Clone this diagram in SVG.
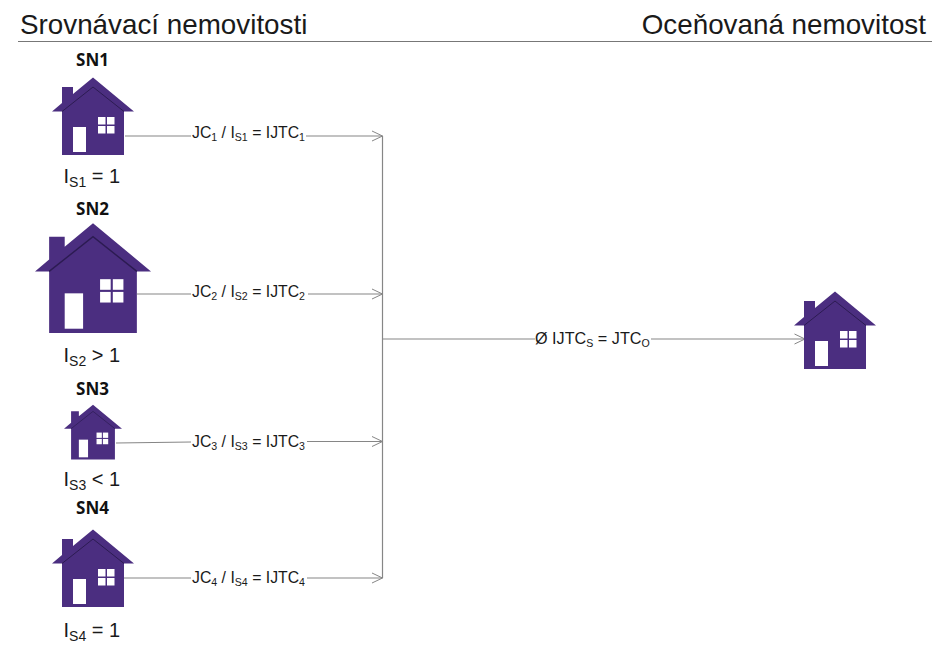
<svg xmlns="http://www.w3.org/2000/svg" width="935" height="648" viewBox="0 0 935 648">
<style>
text{font-family:"Liberation Sans",Arial,sans-serif;fill:#1a1a1a}
.title{font-size:27.8px}
.sn{font-family:"Open Sans","Noto Sans",sans-serif;font-weight:700;font-size:17px;text-anchor:middle;fill:#111}
.idx{font-size:20px}
.idx .s{font-size:14px}
.lab{font-size:15.8px}
.lab .s{font-size:10.6px}
.big{font-size:16.2px}
.wire{fill:none;stroke:#868686;stroke-width:1.2}
.body{fill:#4b2e80}
.edge{fill:none;stroke:#2c1b52;stroke-width:1}
.pane{fill:#fff}
</style>
<defs>
<marker id="open" markerUnits="userSpaceOnUse" markerWidth="14" markerHeight="14" refX="12" refY="7" orient="auto">
<path d="M1.500 2 L12 7 L1.500 12" fill="none" stroke="#868686" stroke-width="1"/>
</marker>
<g id="house">
<path class="body" d="M0 -0.500 L41 33.500 L31 33.500 V77 H-31 V33.500 L-41 33.500 L-31 25 V9 H-20 V16 Z"/>
<path class="edge" d="M-31 33.500 L0 9 L31 33.500"/>
<rect class="pane" x="-20" y="49" width="13" height="25"/>
<rect class="pane" x="5" y="39" width="7.500" height="7.500"/>
<rect class="pane" x="14" y="39" width="7.500" height="7.500"/>
<rect class="pane" x="5" y="48" width="7.500" height="7.500"/>
<rect class="pane" x="14" y="48" width="7.500" height="7.500"/>
</g>
</defs>
<g id="header">
<text class="title" x="20" y="33.500">Srovnávací nemovitosti</text>
<text class="title" x="926" y="33.500" text-anchor="end">Oceňovaná nemovitost</text>
<path d="M18 41.500 H932" fill="none" stroke="#777" stroke-width="1.200"/>
</g>
<g id="connectors">
<path class="wire" d="M125 136 H191 M306 136 H382.500" marker-end="url(#open)"/>
<path class="wire" d="M137 294 H191 M308 294 H382.500" marker-end="url(#open)"/>
<path class="wire" d="M116 443 L191 442 M307 441.500 H382.500" marker-end="url(#open)"/>
<path class="wire" d="M124 578 H191 M307 578 H382.500" marker-end="url(#open)"/>
<path class="wire" d="M382.500 136 V578"/>
<path class="wire" d="M382.500 339 H535 M651 339 H805" marker-end="url(#open)"/>
</g>
<g id="SN1">
<text class="sn" x="92.500" y="65.500">SN1</text>
<use href="#house" transform="translate(93 78)"/>
<text class="idx" x="63.500" y="183">I<tspan class="s" dy="4">S1</tspan><tspan dy="-4"> = 1</tspan></text>
</g>
<g id="SN2">
<text class="sn" x="92.500" y="215">SN2</text>
<use href="#house" transform="translate(93 224) scale(1.415)"/>
<text class="idx" x="63.500" y="361.500">I<tspan class="s" dy="4">S2</tspan><tspan dy="-4"> &gt; 1</tspan></text>
</g>
<g id="SN3">
<text class="sn" x="92.500" y="395">SN3</text>
<use href="#house" transform="translate(93 405) scale(0.707)"/>
<text class="idx" x="63.500" y="486">I<tspan class="s" dy="4">S3</tspan><tspan dy="-4"> &lt; 1</tspan></text>
</g>
<g id="SN4">
<text class="sn" x="92.500" y="514">SN4</text>
<use href="#house" transform="translate(93 530)"/>
<text class="idx" x="63.500" y="637">I<tspan class="s" dy="4">S4</tspan><tspan dy="-4"> = 1</tspan></text>
</g>
<g id="target">
<use href="#house" transform="translate(835 292)"/>
</g>
<g id="labels">
<text class="lab" x="192" y="138">JC<tspan class="s" dy="3">1</tspan><tspan dy="-3"> / I</tspan><tspan class="s" dy="3">S1</tspan><tspan dy="-3"> = IJTC</tspan><tspan class="s" dy="3">1</tspan></text>
<text class="lab" x="192" y="297">JC<tspan class="s" dy="3">2</tspan><tspan dy="-3"> / I</tspan><tspan class="s" dy="3">S2</tspan><tspan dy="-3"> = IJTC</tspan><tspan class="s" dy="3">2</tspan></text>
<text class="lab" x="192" y="447">JC<tspan class="s" dy="3">3</tspan><tspan dy="-3"> / I</tspan><tspan class="s" dy="3">S3</tspan><tspan dy="-3"> = IJTC</tspan><tspan class="s" dy="3">3</tspan></text>
<text class="lab" x="192" y="583">JC<tspan class="s" dy="3">4</tspan><tspan dy="-3"> / I</tspan><tspan class="s" dy="3">S4</tspan><tspan dy="-3"> = IJTC</tspan><tspan class="s" dy="3">4</tspan></text>
<text class="lab big" x="535" y="343.500">Ø IJTC<tspan class="s" dy="3">S</tspan><tspan dy="-3"> = JTC</tspan><tspan class="s" dy="3">O</tspan></text>
</g>
</svg>
